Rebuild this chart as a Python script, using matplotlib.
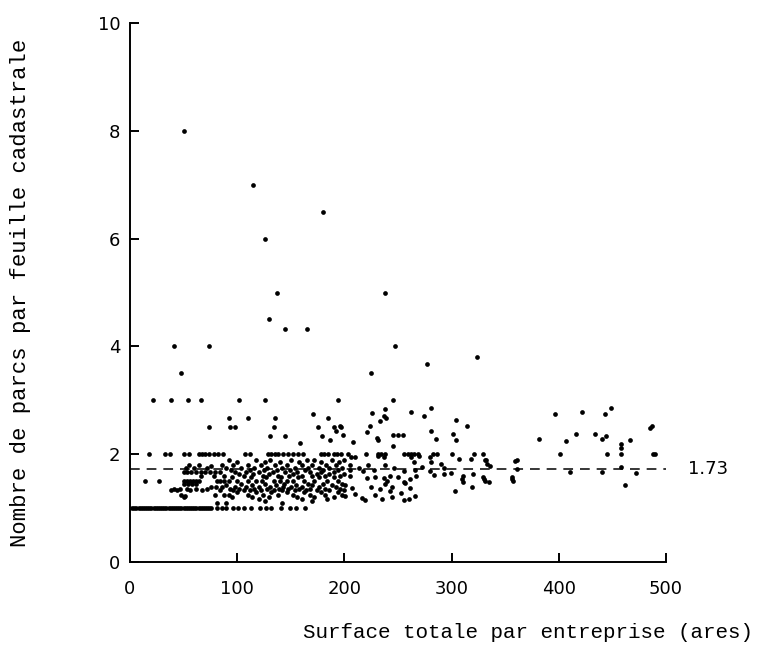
import matplotlib
matplotlib.use("Agg")
import matplotlib.pyplot as plt

# ---- data: total surface per farm (ares) vs number of parcels per cadastral sheet ----

# isolated high values
out_x = [50, 115, 180, 126, 137, 238, 130, 145, 165, 41, 74, 48, 247, 225, 277, 324]
out_y = [8.0, 7.0, 6.5, 6.0, 5.0, 5.0, 4.5, 4.33, 4.33, 4.0, 4.0, 3.5, 4.0, 3.5, 3.67, 3.8]

# farms with exactly 3 parcels per sheet
row3_x = [21, 38, 54, 66, 102, 126, 194, 245]

# farms with exactly 2 parcels per sheet
row2_x = [18, 33, 37, 50, 55, 64, 67, 70, 74, 78, 82, 87, 107, 112, 129, 132,
          135, 138, 143, 147, 152, 157, 161, 178, 181, 185, 190, 193, 197, 203,
          220, 231, 234, 238, 256, 259, 262, 265, 269, 283, 286, 300, 321, 329,
          401, 445, 458, 488, 490]

# farms with exactly 1 parcel per sheet
row1_x = [2, 4, 6, 8, 10, 12, 14, 16, 18, 20, 22, 24, 26, 28, 30, 32, 34, 36,
          38, 40, 42, 44, 46, 48, 50, 52, 54, 56, 58, 60, 62, 64, 66, 68, 70,
          72, 74, 76, 81, 86, 90, 96, 101, 106, 113, 121, 127, 132, 141, 149,
          155, 163]

# values between 2 and 3
upper_x = [74, 92, 93, 98, 110, 131, 134, 135, 145, 159, 171, 175, 179, 185,
           187, 190, 192, 196, 197, 199, 208, 221, 224, 226, 230, 231, 233, 237,
           238, 239, 245, 245, 250, 255, 262, 274, 281, 281, 285, 301, 304, 304,
           314, 382, 396, 407, 416, 422, 434, 440, 443, 444, 449, 458, 458, 466,
           485, 487]
upper_y = [2.50, 2.67, 2.50, 2.50, 2.67, 2.33, 2.50, 2.67, 2.33, 2.20, 2.75,
           2.50, 2.33, 2.67, 2.27, 2.50, 2.43, 2.52, 2.50, 2.35, 2.22, 2.42,
           2.52, 2.77, 2.30, 2.26, 2.62, 2.70, 2.84, 2.67, 2.16, 2.36, 2.35,
           2.36, 2.78, 2.70, 2.86, 2.43, 2.28, 2.37, 2.63, 2.26, 2.53, 2.28,
           2.74, 2.24, 2.37, 2.78, 2.37, 2.28, 2.74, 2.33, 2.86, 2.19, 2.11,
           2.26, 2.48, 2.53]

# values between 1.75 and 2
hi_x = [52, 55, 60, 64, 72, 76, 86, 90, 92, 96, 100, 104, 110, 116, 118, 122,
        126, 128, 131, 135, 140, 142, 146, 150, 154, 158, 160, 165, 166, 170,
        172, 176, 178, 183, 186, 188, 192, 195, 198, 200, 205, 206, 210, 214,
        222, 231, 237, 238, 246, 262, 265, 270, 272, 280, 281, 290, 293, 307,
        318, 331, 332, 333, 336, 359, 361, 458]
hi_y = [1.75, 1.80, 1.75, 1.80, 1.75, 1.78, 1.80, 1.75, 1.90, 1.80, 1.86,
        1.75, 1.80, 1.75, 1.90, 1.80, 1.86, 1.75, 1.90, 1.80, 1.86, 1.75,
        1.80, 1.90, 1.75, 1.86, 1.80, 1.90, 1.75, 1.80, 1.90, 1.75, 1.86,
        1.80, 1.75, 1.90, 1.80, 1.86, 1.75, 1.90, 1.80, 1.94, 1.94, 1.75,
        1.80, 1.97, 1.95, 1.80, 1.75, 1.94, 1.85, 1.97, 1.76, 1.94, 1.86,
        1.81, 1.75, 1.92, 1.92, 1.89, 1.90, 1.81, 1.79, 1.88, 1.90, 1.76]

# values between 1.45 and 1.72
mid_x = [14, 27, 50, 53, 56, 59, 62, 64, 81, 50, 54, 58, 62, 50, 53, 57, 62,
         66, 70, 75, 79, 66, 78,
         94, 112, 125, 137, 149, 163, 180, 194,
         84, 98, 108, 120, 133, 145, 156, 168, 178, 190,
         102, 115, 130, 152, 174, 186, 200,
         88, 106, 124, 138, 148, 160, 170, 182, 196,
         95, 113, 127, 141, 157, 176, 190,
         84, 88, 92, 100, 110, 118, 123, 134, 140, 146, 152, 162, 172, 184, 194,
         104, 126, 144, 166, 180, 198,
         205, 217, 228, 256, 266, 280,
         205, 221, 229, 237, 243, 250, 261, 267, 284,
         240, 256, 257, 293, 299, 310, 311, 311, 320, 329, 330, 331, 335, 356,
         357, 356, 361, 410, 440, 472]
mid_y = [1.50, 1.50, 1.50, 1.50, 1.50, 1.50, 1.50, 1.50, 1.50, 1.45, 1.45,
         1.45, 1.45, 1.67, 1.67, 1.67, 1.67, 1.67, 1.67, 1.67, 1.67, 1.60, 1.60,
         1.71, 1.71, 1.71, 1.71, 1.71, 1.71, 1.71, 1.71,
         1.67, 1.67, 1.67, 1.67, 1.67, 1.67, 1.67, 1.67, 1.67, 1.67,
         1.63, 1.63, 1.63, 1.63, 1.63, 1.63, 1.63,
         1.60, 1.60, 1.60, 1.60, 1.60, 1.60, 1.60, 1.60, 1.60,
         1.57, 1.57, 1.57, 1.57, 1.57, 1.57, 1.57,
         1.50, 1.50, 1.50, 1.50, 1.50, 1.50, 1.50, 1.50, 1.50, 1.50, 1.50,
         1.50, 1.50, 1.50, 1.50,
         1.45, 1.45, 1.45, 1.45, 1.45, 1.45,
         1.70, 1.68, 1.71, 1.69, 1.71, 1.68,
         1.60, 1.55, 1.58, 1.55, 1.60, 1.57, 1.54, 1.60, 1.62,
         1.51, 1.48, 1.46, 1.63, 1.66, 1.54, 1.49, 1.60, 1.63, 1.58, 1.54,
         1.50, 1.48, 1.54, 1.51, 1.57, 1.72, 1.67, 1.67, 1.65]

# values between 1.1 and 1.45
lo_x = [38, 41, 44, 47, 53, 56, 62, 67, 72, 48, 51, 79, 50, 81, 76, 80,
        90, 114, 136, 155, 170, 188,
        86, 98, 108, 120, 131, 143, 150, 160, 176, 192,
        93, 102, 116, 128, 139, 147, 158, 168, 182, 196,
        84, 96, 106, 112, 122, 134, 142, 154, 164, 174, 186, 200,
        100, 118, 132, 146, 162, 178, 194,
        88, 92, 110, 124, 138, 152, 168, 182, 198,
        95, 114, 130, 156, 172, 190,
        120, 160, 184,
        126, 170,
        90, 142,
        201, 207, 225, 233, 238, 244, 261,
        201, 210, 216, 229, 244, 253, 256, 266, 219, 235,
        243, 260, 303, 319, 462]
lo_y = [1.33, 1.36, 1.33, 1.36, 1.36, 1.33, 1.36, 1.33, 1.36, 1.25, 1.23,
        1.25, 1.20, 1.10, 1.40, 1.40,
        1.43, 1.43, 1.43, 1.43, 1.43, 1.43,
        1.40, 1.40, 1.40, 1.40, 1.40, 1.40, 1.40, 1.40, 1.40, 1.40,
        1.36, 1.36, 1.36, 1.36, 1.36, 1.36, 1.36, 1.36, 1.36, 1.36,
        1.33, 1.33, 1.33, 1.33, 1.33, 1.33, 1.33, 1.33, 1.33, 1.33, 1.33, 1.33,
        1.29, 1.29, 1.29, 1.29, 1.29, 1.29, 1.29,
        1.25, 1.25, 1.25, 1.25, 1.25, 1.25, 1.25, 1.25, 1.25,
        1.20, 1.20, 1.20, 1.20, 1.20, 1.20,
        1.17, 1.17, 1.17,
        1.14, 1.14,
        1.10, 1.10,
        1.43, 1.38, 1.40, 1.36, 1.45, 1.40, 1.38,
        1.22, 1.27, 1.18, 1.25, 1.20, 1.28, 1.15, 1.22, 1.15, 1.16,
        1.32, 1.17, 1.32, 1.40, 1.42]

mean_value = 1.73

x_ticks = [0, 100, 200, 300, 400, 500]
y_ticks = [0, 2, 4, 6, 8, 10]

# ---- figure ----
plt.rcParams['lines.scale_dashes'] = False

fig = plt.figure(figsize=(7.62, 6.5), dpi=100)
ax = fig.add_axes([0.1706, 0.1354, 0.7034, 0.8292])

dot = dict(linestyle='none', marker='o', ms=3.4, mew=0, color='black',
           clip_on=False, zorder=3)

ax.plot(out_x, out_y, **dot)
ax.plot(row3_x, [3.0] * len(row3_x), **dot)
ax.plot(row2_x, [2.0] * len(row2_x), **dot)
ax.plot(row1_x, [1.0] * len(row1_x), **dot)
ax.plot(upper_x, upper_y, **dot)
ax.plot(hi_x, hi_y, **dot)
ax.plot(mid_x, mid_y, **dot)
ax.plot(lo_x, lo_y, **dot)

# mean line
ax.plot([0, 500], [mean_value, mean_value], color='black', lw=1.1,
        dashes=(7, 5), zorder=2)
ax.text(521, mean_value, f"{mean_value:.2f}", ha='left', va='center',
        fontsize=13, family='DejaVu Sans', clip_on=False)

ax.set_xlim(0, 500)
ax.set_ylim(0, 10)
ax.set_xticks(x_ticks)
ax.set_yticks(y_ticks)
ax.set_xticklabels([str(v) for v in x_ticks])
ax.set_yticklabels([str(v) for v in y_ticks])

for s in ('top', 'right'):
    ax.spines[s].set_visible(False)
for s in ('left', 'bottom'):
    ax.spines[s].set_linewidth(1.4)

ax.tick_params(axis='both', direction='in', length=6.5, width=1.4,
               labelsize=13)
ax.tick_params(axis='x', pad=13)
ax.tick_params(axis='y', pad=7)
for lab in ax.get_xticklabels() + ax.get_yticklabels():
    lab.set_family('DejaVu Sans')

fig.text(528 / 762, 1 - 632 / 650, "Surface totale par entreprise (ares)",
         ha='center', va='center', fontsize=15, family='Liberation Mono')
fig.text(21 / 762, 1 - 293 / 650, "Nombre de parcs par feuille cadastrale",
         ha='center', va='center', rotation=90, fontsize=16,
         family='Liberation Mono')

fig.savefig("out.png", dpi=100)
